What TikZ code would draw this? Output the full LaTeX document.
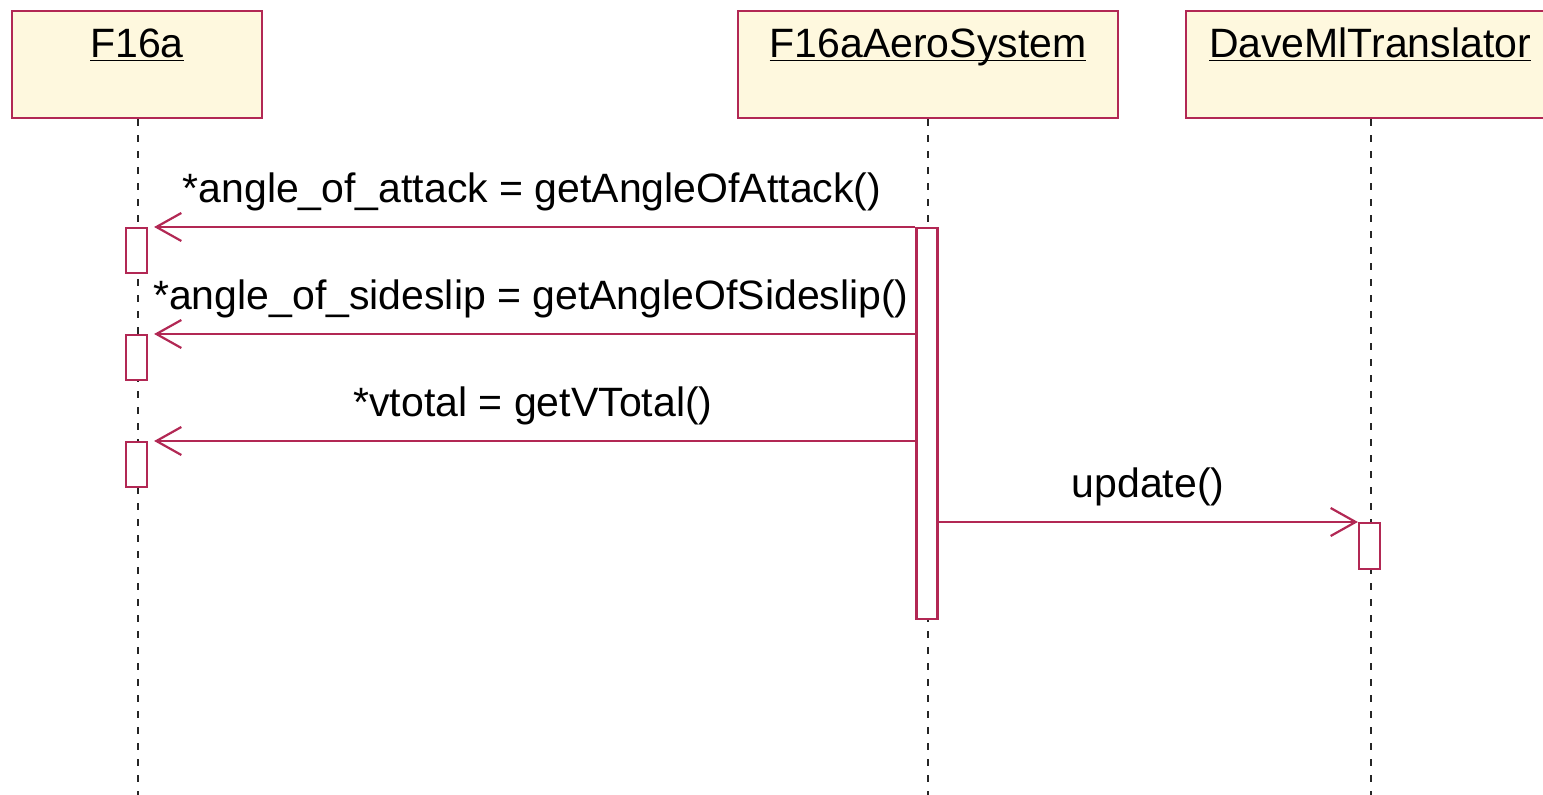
\documentclass[tikz,border=0pt]{standalone}
\usepackage{fontspec}
\setmainfont{Liberation Sans}
\usetikzlibrary{arrows.meta}

\definecolor{umlred}{RGB}{178,40,84}
\definecolor{umlfill}{RGB}{254,248,222}

\newcommand{\objname}[1]{\underline{\smash{#1}}}

\tikzset{
  lbl/.style={font=\fontsize{20.5}{24}\selectfont, inner sep=0pt},
  objbox/.style={draw=umlred, fill=umlfill, line width=1.2pt, inner sep=0pt},
  lifeline/.style={draw=black!85, line width=1.1pt, dash pattern=on 3.5pt off 4.5pt},
  actbar/.style={draw=umlred, fill=white, line width=1.1pt, inner sep=0pt,
                 minimum width=10.5pt, anchor=north},
  msg/.style={draw=umlred, line width=1.1pt,
              -{Straight Barb[length=12.5pt,width=14pt,line width=1.1pt]}},
}

\begin{document}
\begin{tikzpicture}[x=0.5pt,y=-0.5pt]
  \useasboundingbox (0,0) rectangle (1543,795);

  % object headers
  \node[objbox, minimum width=125pt, minimum height=53.5pt] (f16) at (137,64.5) {};
  \node[objbox, minimum width=190pt, minimum height=53.5pt] (aero) at (928,64.5) {};
  \node[objbox, minimum width=187pt, minimum height=53.5pt] (dave) at (1373,64.5) {};

  \node[lbl, anchor=base] (f16t) at (137,58) {\objname{F16a}};
  \node[lbl, anchor=base] (aerot) at (928,58) {\objname{F16aAeroSystem}};
  \node[lbl, anchor=base] (davet) at (1370,58) {\objname{DaveMlTranslator}};

  % lifelines
  \coordinate (f16end) at (138,800);
  \coordinate (aeroend) at (928,800);
  \coordinate (daveend) at (1371,800);
  \draw[lifeline] (f16.south -| f16end) -- (f16end);
  \draw[lifeline] (aero.south) -- (aeroend);
  \draw[lifeline] (dave.south -| daveend) -- (daveend);

  % activation bars
  \node[actbar, minimum height=195.5pt] (aeroact) at (927,227) {};
  \node[actbar, minimum height=22.5pt] (f1) at (136.5,227) {};
  \node[actbar, minimum height=22.5pt] (f2) at (136.5,334) {};
  \node[actbar, minimum height=22.5pt] (f3) at (136.5,441) {};
  \node[actbar, minimum height=23pt] (d1) at (1369.5,522) {};

  % messages
  \draw[msg, shorten >=3pt] (aeroact.north west) -- (f1.north east);
  \draw[msg, shorten >=3pt] (aeroact.west |- f2.north) -- (f2.north east);
  \draw[msg, shorten >=3pt] (aeroact.west |- f3.north) -- (f3.north east);
  \draw[msg] (aeroact.east |- d1.north) -- (d1.north west);

  % message labels
  \node[lbl, anchor=base] (m1) at (532,203) {*angle\_of\_attack = getAngleOfAttack()};
  \node[lbl, anchor=base] (m2) at (531,310) {*angle\_of\_sideslip = getAngleOfSideslip()};
  \node[lbl, anchor=base] (m3) at (533,417) {*vtotal = getVTotal()};
  \node[lbl, anchor=base] (m4) at (1148,498) {update()};
\end{tikzpicture}
\end{document}
